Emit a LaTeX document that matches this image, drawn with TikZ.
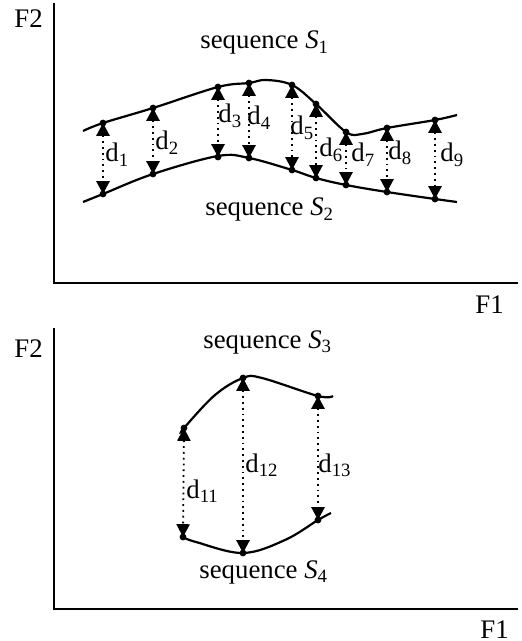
\documentclass[tikz,border=0pt]{standalone}
\usepackage{fontspec}
\setmainfont{Liberation Serif}
\usetikzlibrary{arrows.meta}

\begin{document}
\begin{tikzpicture}[
  x=0.5pt, y=-0.5pt,
  font=\fontsize{13.4}{16}\selectfont,
  axis/.style={line width=1pt},
  seq/.style={line width=1.1pt,smooth,tension=0.6},
  dist/.style={dotted,line width=0.9pt,
               {Triangle[width=6.6pt,length=6.4pt]}-{Triangle[width=6.6pt,length=6.4pt]}},
  pt/.style={fill,radius=1.7pt},
  lab/.style={anchor=base west,inner sep=0pt}
]
\useasboundingbox (0,0) rectangle (521,641);

% upper graph
\draw[axis] (54,3) -- (54,283) -- (518,283);
\node[lab] (f2a) at (14,28) {F2};
\node[lab] (f1a) at (475,314) {F1};

\coordinate (u1) at (103,123); \coordinate (l1) at (103,194);
\coordinate (u2) at (153,108); \coordinate (l2) at (153,174);
\coordinate (u3) at (218,87);  \coordinate (l3) at (218,157);
\coordinate (u4) at (249,83);  \coordinate (l4) at (249,158);
\coordinate (u5) at (292,85);  \coordinate (l5) at (292,170);
\coordinate (u6) at (316,104); \coordinate (l6) at (316,178);
\coordinate (u7) at (346,132); \coordinate (l7) at (346,185);
\coordinate (u8) at (387,128); \coordinate (l8) at (387,192);
\coordinate (u9) at (435,120); \coordinate (l9) at (435,199);

\draw[seq] plot coordinates {(83,131) (u1) (u2) (u3) (u4) (266,80) (u5) (u6)
  (u7) (362,134) (u8) (u9) (457,115)};
\draw[seq] plot coordinates {(83,202) (l1) (l2) (u3|-0,156) (l4) (l5) (l6)
  (l7) (l8) (l9) (457,202)};

\foreach \i in {1,...,9} \draw[dist] (u\i) -- (l\i);
\foreach \i in {1,...,9} \fill[pt] (u\i) circle[] (l\i) circle[];

\node[lab] (d1) at (105,162) {d\textsubscript{1}};
\node[lab] (d2) at (155,150) {d\textsubscript{2}};
\node[lab] (d3) at (218,123) {d\textsubscript{3}};
\node[lab] (d4) at (247,125) {d\textsubscript{4}};
\node[lab] (d5) at (290,135) {d\textsubscript{5}};
\node[lab] (d6) at (319,157) {d\textsubscript{6}};
\node[lab] (d7) at (351,162) {d\textsubscript{7}};
\node[lab] (d8) at (388,160) {d\textsubscript{8}};
\node[lab] (d9) at (440,162) {d\textsubscript{9}};

\node[lab] (s1) at (200,49) {sequence \textit{S}\textsubscript{1}};
\node[lab] (s2) at (205,216) {sequence \textit{S}\textsubscript{2}};

% lower graph
\draw[axis] (54,328) -- (54,609) -- (518,609);
\node[lab] (f2b) at (14,357) {F2};
\node[lab] (f1b) at (480,638) {F1};

\coordinate (u11) at (184,428); \coordinate (l11) at (183,537);
\coordinate (u12) at (243,378); \coordinate (l12) at (243,553);
\coordinate (u13) at (318,396); \coordinate (l13) at (318,520);

\draw[seq] plot coordinates {(182,432) (u11) (215,395) (u12) (262,378) (u13) (333,396)};
\draw[seq] plot coordinates {(l11) (196,542) (l12) (285,540) (l13) (331,513)};

\foreach \i in {11,12,13} \draw[dist] (u\i) -- (l\i);
\foreach \i in {11,12,13} \fill[pt] (u\i) circle[] (l\i) circle[];

\node[lab] (d11) at (186,498) {d\textsubscript{11}};
\node[lab] (d12) at (245,472) {d\textsubscript{12}};
\node[lab] (d13) at (318,472) {d\textsubscript{13}};

\node[lab] (s3) at (203,348) {sequence \textit{S}\textsubscript{3}};
\node[lab] (s4) at (199,578) {sequence \textit{S}\textsubscript{4}};
\end{tikzpicture}
\end{document}
